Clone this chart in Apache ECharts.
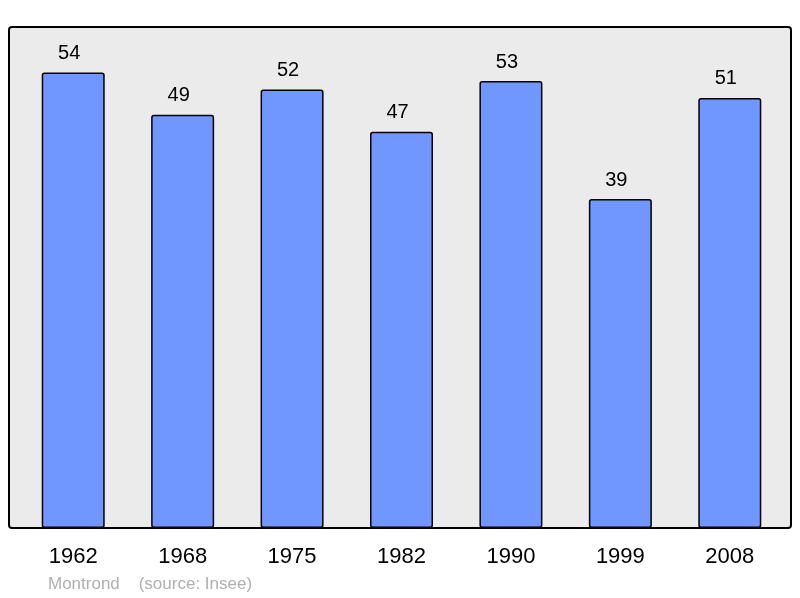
<!DOCTYPE html>
<html>
<head>
<meta charset="utf-8">
<script src="https://cdn.jsdelivr.net/npm/echarts@6/dist/echarts.min.js"></script>
<style>html,body{margin:0;padding:0;background:#fff}#c{width:800px;height:598px}</style>
</head>
<body>
<div id="c"></div>
<script>
const years = ['1962', '1968', '1975', '1982', '1990', '1999', '2008'];
const population = [54, 49, 52, 47, 53, 39, 51];
const sourceText = 'Montrond    (source: Insee)';

const chart = echarts.init(document.getElementById('c'), null, {renderer: 'canvas'});
chart.setOption({
  animation: false,
  backgroundColor: '#ffffff',
  textStyle: {fontFamily: 'Liberation Sans, Arial, sans-serif'},
  grid: {left: 18.5, right: 15.5, top: 22, bottom: 70, containLabel: false},
  graphic: [
    {type: 'rect', z: -10, shape: {x: 9, y: 27, width: 782, height: 501, r: 3},
     style: {fill: '#ebebeb', stroke: '#000', lineWidth: 2}},
    {type: 'text', left: 48, top: 576, style: {text: sourceText, fill: '#b0b0b0', font: '17px "Liberation Sans", Arial, sans-serif'}}
  ],
  xAxis: {
    type: 'category', data: years,
    axisLine: {show: false}, axisTick: {show: false},
    axisLabel: {color: '#000', fontSize: 22, margin: 18, fontFamily: 'Liberation Sans, Arial, sans-serif'}
  },
  yAxis: {type: 'value', min: 0, max: 60, show: false, splitLine: {show: false}},
  series: [{
    type: 'bar', data: population, barWidth: 63,
    itemStyle: {color: '#7097ff', borderColor: '#000', borderWidth: 1.5, borderRadius: 2},
    label: {show: true, position: 'top', distance: 9, offset: [-4, 0], color: '#000', fontSize: 20, fontFamily: 'Liberation Sans, Arial, sans-serif'}
  }]
});
</script>
</body>
</html>
